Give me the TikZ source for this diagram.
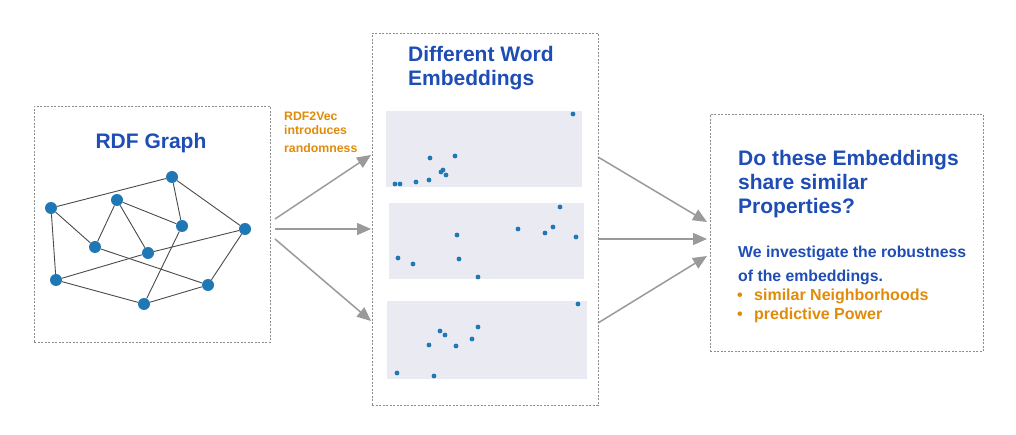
\documentclass[tikz,border=0pt]{standalone}
\usepackage{fontspec}
\setmainfont{Liberation Sans}
\usetikzlibrary{arrows.meta}
\definecolor{ttl}{HTML}{1E4DB5}
\definecolor{org}{HTML}{E08C0A}
\definecolor{dotc}{HTML}{1F77B4}
\definecolor{plotbg}{HTML}{EAEAF2}
\definecolor{arr}{HTML}{9A9A9A}
\definecolor{edgec}{HTML}{4A4A4A}
\definecolor{panelc}{HTML}{8C8C8C}
\begin{document}
\begin{tikzpicture}[x=1pt,y=-1pt,
  panel/.style={draw=panelc, dash pattern=on 2pt off 1.5pt, line width=0.8pt, inner sep=0pt, anchor=north west},
  plotbox/.style={fill=plotbg, draw=none, inner sep=0pt, anchor=north west},
  gnode/.style={circle, fill=dotc, minimum size=12pt, inner sep=0pt},
  gedge/.style={draw=edgec, line width=0.9pt},
  flow/.style={draw=arr, line width=1.5pt, -{Triangle[length=14pt,width=12pt]}},
  txt/.style={inner sep=0pt, anchor=base west, font=\bfseries},
  bigtitle/.style={txt, text=ttl, font=\fontsize{21}{25}\selectfont\bfseries},
  subtxt/.style={txt, text=ttl, font=\fontsize{15.8}{19}\selectfont\bfseries},
  bullettxt/.style={txt, text=org, font=\fontsize{16}{19}\selectfont\bfseries},
  note/.style={txt, text=org, font=\fontsize{12.3}{15}\selectfont\bfseries},
]
\useasboundingbox (0,0) rectangle (1016,435);
\fill[white] (0,0) rectangle (1016,435);

% panels
\node[panel, minimum width=236pt, minimum height=236pt] (graphbox) at (34,106) {};
\node[panel, minimum width=226pt, minimum height=372pt] (embbox) at (372,33) {};
\node[panel, minimum width=273pt, minimum height=237pt] (qbox) at (710,114) {};

% titles
\node[txt, text=ttl, font=\fontsize{21}{25}\selectfont\bfseries, anchor=base] (gtitle) at (151,149) {RDF Graph};
\node[bigtitle] (et1) at (408,62) {Different Word};
\node[bigtitle] (et2) at (408,86) {Embeddings};

\node[note] (r1) at (284,121) {RDF2Vec};
\node[note] (r2) at (284,135) {introduces};
\node[note] (r3) at (284,153) {randomness};

\node[bigtitle] (q1) at (738,166) {Do these Embeddings};
\node[bigtitle] (q2) at (738,190) {share similar};
\node[bigtitle] (q3) at (738,214) {Properties?};
\node[subtxt] (s1) at (738,258) {We investigate the robustness};
\node[subtxt] (s2) at (738,282) {of the embeddings.};
\node[bullettxt] (b1) at (737,301) {•};
\node[bullettxt] (b1t) at (754,301) {similar Neighborhoods};
\node[bullettxt] (b2) at (737,319) {•};
\node[bullettxt] (b2t) at (754,319) {predictive Power};

% graph
\node[gnode] (n1) at (172,177) {};
\node[gnode] (n2) at (51,208) {};
\node[gnode] (n3) at (117,200) {};
\node[gnode] (n4) at (182,226) {};
\node[gnode] (n5) at (245,229) {};
\node[gnode] (n6) at (95,247) {};
\node[gnode] (n7) at (148,253) {};
\node[gnode] (n8) at (56,280) {};
\node[gnode] (n9) at (208,285) {};
\node[gnode] (n10) at (144,304) {};
\foreach \a/\b in {n2/n1, n1/n4, n1/n5, n2/n6, n2/n8, n3/n6, n3/n4, n3/n7,
                   n8/n7, n7/n5, n6/n9, n4/n10, n8/n10, n10/n9, n9/n5}
  \draw[gedge] (\a) -- (\b);

% plots
\node[plotbox, minimum width=196pt, minimum height=76pt] (p1) at (386,111) {};
\node[plotbox, minimum width=195pt, minimum height=76pt] (p2) at (389,203) {};
\node[plotbox, minimum width=200pt, minimum height=78pt] (p3) at (387,301) {};
\foreach \x/\y in {573/114, 455/156, 430/158, 443/170, 441/172, 446/175, 429/180, 416/182, 400/184, 395/184,
                   560/207, 553/227, 545/233, 518/229, 576/237, 457/235, 398/258, 413/264, 459/259, 478/277,
                   578/304, 478/327, 440/331, 445/335, 472/339, 429/345, 456/346, 397/373, 434/376}
  \fill[dotc] (\x,\y) circle (2.4pt);

% arrows
\coordinate (a1s) at (275,219); \coordinate (a1e) at (371,155);
\coordinate (a2s) at (275,229); \coordinate (a2e) at (371,229);
\coordinate (a3s) at (275,239); \coordinate (a3e) at (371,321);
\coordinate (c1s) at (598,157); \coordinate (c1e) at (707,222);
\coordinate (c2s) at (598,239); \coordinate (c2e) at (707,239);
\coordinate (c3s) at (598,323); \coordinate (c3e) at (707,256);
\draw[flow] (a1s) -- (a1e);
\draw[flow] (a2s) -- (a2e);
\draw[flow] (a3s) -- (a3e);
\draw[flow] (c1s) -- (c1e);
\draw[flow] (c2s) -- (c2e);
\draw[flow] (c3s) -- (c3e);
\end{tikzpicture}
\end{document}
